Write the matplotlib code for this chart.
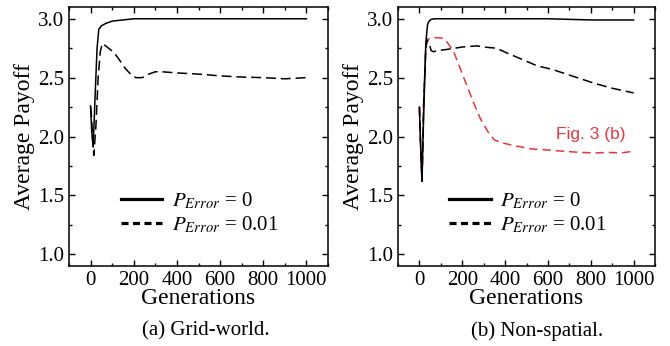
import matplotlib
matplotlib.use('Agg')
import matplotlib.pyplot as plt
from matplotlib.ticker import MultipleLocator

plt.rcParams['font.family'] = ['Liberation Serif', 'DejaVu Serif']
plt.rcParams['mathtext.fontset'] = 'stix'

# (a) grid-world
grid_x0 = [0, 5, 12, 20, 30, 38, 50, 70, 100, 150, 200, 300, 500, 1000]
grid_y0 = [2.26, 2.05, 1.91, 2.3, 2.75, 2.91, 2.94, 2.96, 2.98, 2.99, 3.0, 3.0, 3.0, 3.0]
grid_x1 = [0, 5, 10, 15, 25, 35, 45, 54, 70, 90, 110, 130, 160, 190, 210, 240,
           270, 300, 330, 400, 500, 600, 700, 800, 850, 900, 1000]
grid_y1 = [2.25, 2.15, 1.95, 1.84, 2.1, 2.5, 2.72, 2.79, 2.77, 2.74, 2.71, 2.66, 2.58,
           2.52, 2.50, 2.50, 2.53, 2.55, 2.55, 2.54, 2.53, 2.515, 2.505, 2.50, 2.495, 2.49, 2.50]

# (b) non-spatial
ns_x0 = [0, 5, 12, 20, 30, 38, 45, 55, 70, 100, 300, 600, 700, 800, 1000]
ns_y0 = [2.25, 1.95, 1.62, 2.2, 2.8, 2.95, 2.98, 2.995, 3.0, 3.0, 3.0, 3.0, 2.995, 2.99, 2.99]
ns_x1 = [0, 6, 12, 20, 30, 37, 45, 55, 65, 85, 130, 200, 270, 300, 360, 420, 460,
         550, 620, 670, 720, 820, 900, 950, 1000]
ns_y1 = [2.25, 1.9, 1.62, 2.3, 2.75, 2.82, 2.79, 2.73, 2.72, 2.73, 2.74, 2.76, 2.77,
         2.76, 2.75, 2.70, 2.67, 2.60, 2.57, 2.54, 2.51, 2.45, 2.41, 2.39, 2.37]
# old result, Fig. 3 (b)
fig3_x = [0, 6, 12, 20, 30, 40, 60, 80, 110, 130, 160, 190, 220, 250, 285, 320, 350,
          400, 450, 520, 600, 670, 750, 820, 880, 940, 1000]
fig3_y = [2.25, 1.9, 1.61, 2.3, 2.78, 2.83, 2.835, 2.84, 2.835, 2.80, 2.72, 2.58, 2.44,
          2.30, 2.15, 2.04, 1.97, 1.94, 1.92, 1.895, 1.885, 1.875, 1.865, 1.86, 1.865, 1.86, 1.875]

labels = [r'$P_{Error}$ = 0', r'$P_{Error}$ = 0.01']
red = '#e8363e'

fig = plt.figure(figsize=(6.7, 3.46), dpi=100)
ax1 = fig.add_axes([69/670, 80/346, 259/670, 259/346])
ax2 = fig.add_axes([398/670, 80/346, 257/670, 259/346])

ax1.plot(grid_x0, grid_y0, color='black', lw=1.1, label=labels[0])
ax1.plot(grid_x1, grid_y1, color='black', lw=1.1, dashes=(6.5, 3.2), label=labels[1])

ax2.plot(fig3_x, fig3_y, color=red, lw=1.1, dashes=(5.5, 3.2))
ax2.plot(ns_x0, ns_y0, color='black', lw=1.1, label=labels[0])
ax2.plot(ns_x1, ns_y1, color='black', lw=1.1, dashes=(6.5, 3.2), label=labels[1])
ax2.text(640, 2.02, 'Fig. 3 (b)', color=red, fontsize=12.5, family='Liberation Sans',
         va='center', ha='left')

for ax in (ax1, ax2):
    ax.set_xlim(-100, 1100)
    ax.set_ylim(0.9, 3.1)
    ax.xaxis.set_major_locator(MultipleLocator(200))
    ax.xaxis.set_minor_locator(MultipleLocator(100))
    ax.yaxis.set_major_locator(MultipleLocator(0.5))
    ax.yaxis.set_minor_locator(MultipleLocator(0.25))
    ax.tick_params(which='both', direction='in', top=True, right=True, labelsize=15, pad=3.5)
    ax.tick_params(which='major', length=4, width=1)
    ax.tick_params(which='minor', length=2.5, width=1)
    for s in ax.spines.values():
        s.set_linewidth(1.1)
    ax.set_xlabel('Generations', fontsize=17, labelpad=-1)
    ax.set_ylabel('Average Payoff', fontsize=17, labelpad=2)
    leg = ax.legend(loc='upper left', bbox_to_anchor=(0.2, 0.29), frameon=False,
                    prop={'size': 15}, handlelength=2.0, handletextpad=0.45,
                    borderpad=0, borderaxespad=0, labelspacing=0.15)
    for ln in leg.get_lines():
        ln.set_linewidth(2.3)
    leg.get_lines()[1].set_dashes((2.2, 1.4))

fig.text(206/670, 1 - 331/346, '(a) Grid-world.', fontsize=15, ha='center', va='center')
fig.text(537/670, 1 - 331/346, '(b) Non-spatial.', fontsize=15, ha='center', va='center')

fig.savefig('out.png', dpi=100)
